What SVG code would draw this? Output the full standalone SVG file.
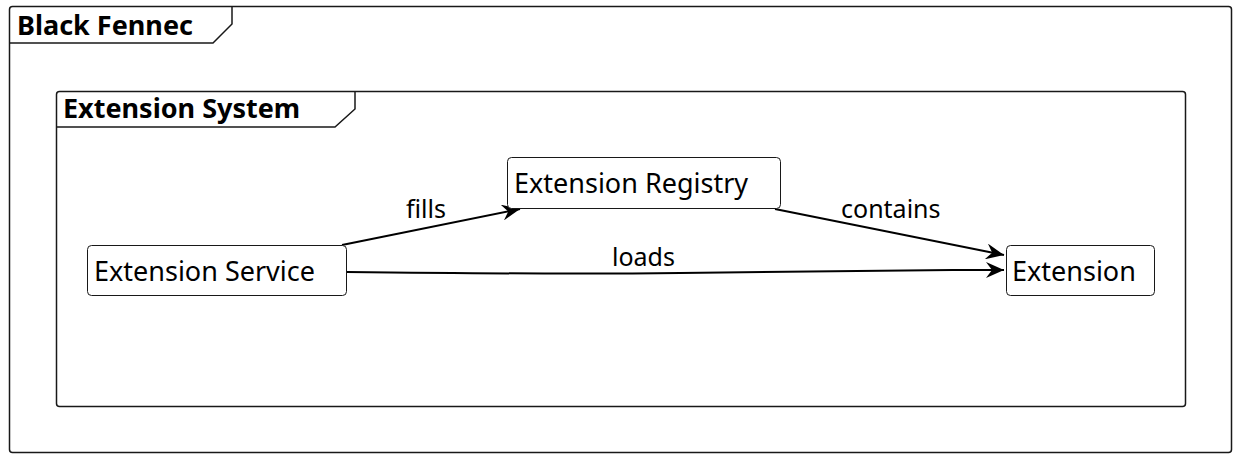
<svg xmlns="http://www.w3.org/2000/svg" width="1233" height="454" viewBox="0 0 1233 454">
<style>
.frame{fill:none;stroke:#181818;stroke-width:1.5}
.node{fill:#fff;stroke:#181818;stroke-width:1}
.title{font-family:"Noto Sans","Open Sans",sans-serif;font-weight:bold;font-size:27px;fill:#000}
.ntext{font-family:"Noto Sans","Open Sans",sans-serif;font-size:27px;fill:#000}
.ltext{font-family:"Noto Sans","Open Sans",sans-serif;font-size:25px;fill:#000}
.edge{fill:none;stroke:#000;stroke-width:2}
</style>
<defs>
<marker id="arr" viewBox="0 0 20 16" refX="18" refY="8" markerWidth="20" markerHeight="16" markerUnits="userSpaceOnUse" orient="auto">
<path d="M0,0 L18,8 L0,16 L6,8 Z" fill="#000"/>
</marker>
</defs>
<rect width="1233" height="454" fill="#fff"/>
<g id="black-fennec">
<rect class="frame" x="9.5" y="6.5" width="1222" height="446" rx="3"/>
<path class="frame" d="M9.5,43 L213,43 L232,24 L232,6.5"/>
<text class="title" x="17" y="35">Black Fennec</text>
</g>
<g id="extension-system">
<rect class="frame" x="56.5" y="91.5" width="1129" height="315" rx="3"/>
<path class="frame" d="M56.5,127 L335,127 L355,109 L355,91.5"/>
<text class="title" x="63" y="118">Extension System</text>
</g>
<g id="connectors">
<path class="edge" d="M342,245 L520,209" marker-end="url(#arr)"/>
<text class="ltext" x="406" y="218">fills</text>
<path class="edge" d="M775,209 L1004,255" marker-end="url(#arr)"/>
<text class="ltext" x="841" y="218">contains</text>
<path class="edge" d="M347,272 C520,274 600,274 680,273 C800,271 900,270 1004,270" marker-end="url(#arr)"/>
<text class="ltext" x="612" y="266">loads</text>
</g>
<g id="extension-service">
<rect class="node" x="87.5" y="245.5" width="259" height="50" rx="4"/>
<text class="ntext" x="94" y="281">Extension Service</text>
</g>
<g id="extension-registry">
<rect class="node" x="507.5" y="157.5" width="273" height="51" rx="4"/>
<text class="ntext" x="514" y="193">Extension Registry</text>
</g>
<g id="extension">
<rect class="node" x="1006.5" y="245.5" width="148" height="50" rx="4"/>
<text class="ntext" x="1012" y="281">Extension</text>
</g>
</svg>
